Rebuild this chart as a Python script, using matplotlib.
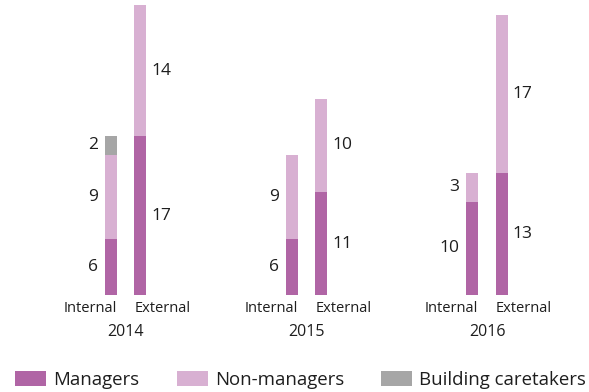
import matplotlib
matplotlib.use("Agg")
import matplotlib.pyplot as plt
from matplotlib.patches import Patch
import numpy as np

plt.rcParams["font.family"] = ["Open Sans", "DejaVu Sans"]

years = ["2014", "2015", "2016"]
kinds = ["Internal", "External"]
managers = {"Internal": [6, 6, 10], "External": [17, 11, 13]}
non_managers = {"Internal": [9, 9, 3], "External": [14, 10, 17]}
caretakers = {"Internal": [2, 0, 0], "External": [0, 0, 0]}

series = [
    ("Managers", managers, "#B065A5"),
    ("Non-managers", non_managers, "#D8B0D2"),
    ("Building caretakers", caretakers, "#A6A6A6"),
]

fig = plt.figure(figsize=(5.89, 3.92), dpi=100)
# x axis in pixel-like units, y in data units
ax = fig.add_axes([0, 97 / 392, 1, 290 / 392])
ax.set_xlim(0, 589)
ax.set_ylim(0, 290 / 9.35)
ax.axis("off")

group_centers = np.array([125.5, 306.5, 487.0])
offsets = {"Internal": -14.7, "External": 14.7}
bw = 12
txt = "#1e1e1e"

for kind in kinds:
    xs = group_centers + offsets[kind]
    bottom = np.zeros(len(years))
    for name, data, color in series:
        vals = np.array(data[kind], dtype=float)
        ax.bar(xs, vals, bw, bottom=bottom, color=color, linewidth=0)
        for x, b, v in zip(xs, bottom, vals):
            if v <= 0:
                continue
            if kind == "Internal":
                ax.text(x - bw / 2 - 7, b + v / 2, f"{int(v)}", ha="right",
                        va="center", fontsize=12.5, color=txt)
            else:
                ax.text(x + bw / 2 + 5, b + v / 2, f"{int(v)}", ha="left",
                        va="center", fontsize=12.5, color=txt)
        bottom += vals

    for x in xs:
        if kind == "Internal":
            ax.text(x + bw / 2, -1.45, kind, ha="right", va="center",
                    fontsize=10.5, color=txt, clip_on=False)
        else:
            ax.text(x - bw / 2, -1.45, kind, ha="left", va="center",
                    fontsize=10.5, color=txt, clip_on=False)

for c, y in zip(group_centers, years):
    ax.text(c, -3.95, y, ha="center", va="center", fontsize=11.5,
            color=txt, clip_on=False)

handles = [Patch(facecolor=color, edgecolor="none", label=name)
           for name, _, color in series]
fig.legend(handles=handles, loc="center left",
           bbox_to_anchor=(15 / 589, 1 - 380 / 392), ncol=3, frameon=False,
           fontsize=13.4, handlelength=1.67, handleheight=0.86,
           handletextpad=0.38, columnspacing=2.0, borderpad=0,
           borderaxespad=0, labelcolor=txt)

fig.savefig("out.png", dpi=100)
